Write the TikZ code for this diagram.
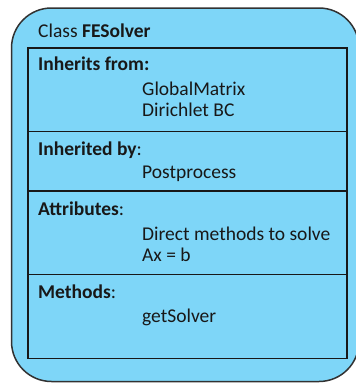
\documentclass[tikz,border=0pt]{standalone}
\usepackage{fontspec}
\setmainfont{Carlito}
\definecolor{boxfill}{RGB}{126,214,248}
\definecolor{ink}{RGB}{24,24,24}
\definecolor{outline}{RGB}{50,50,50}
\begin{document}
\begin{tikzpicture}[x=1pt,y=-1pt,
  txt/.style={anchor=base west, inner sep=0pt, font=\fontsize{19.5}{21}\selectfont, text=ink},
  sect/.style={draw=ink, line width=1.2pt}]
\useasboundingbox (0,0) rectangle (356,383);
\draw[fill=boxfill, draw=outline, line width=1.5pt, rounded corners=40pt] (11.5,8) rectangle (359,381.5);
\draw[sect] (28,48) rectangle (347,131.7);
\draw[sect] (28,131.7) rectangle (347,191);
\draw[sect] (28,191) rectangle (347,274.3);
\draw[sect] (28,274.3) rectangle (347,358.3);
\node[txt] (title) at (38,37.3) {Class \textbf{FESolver}};
\node[txt] (inhfrom) at (38,70.7) {\textbf{Inherits from:}};
\node[txt] (gm) at (142,95.7) {GlobalMatrix};
\node[txt] (dbc) at (142,116.7) {Dirichlet BC};
\node[txt] (inhby) at (38,155) {\textbf{Inherited by}:};
\node[txt] (pp) at (142,178.3) {Postprocess};
\node[txt] (attr) at (38,215) {\textbf{Attributes}:};
\node[txt] (dm) at (142,240) {Direct methods to solve};
\node[txt] (axb) at (142,261.7) {Ax = b};
\node[txt] (meth) at (38,298.3) {\textbf{Methods}:};
\node[txt] (gs) at (142,322.7) {getSolver};
\end{tikzpicture}
\end{document}
